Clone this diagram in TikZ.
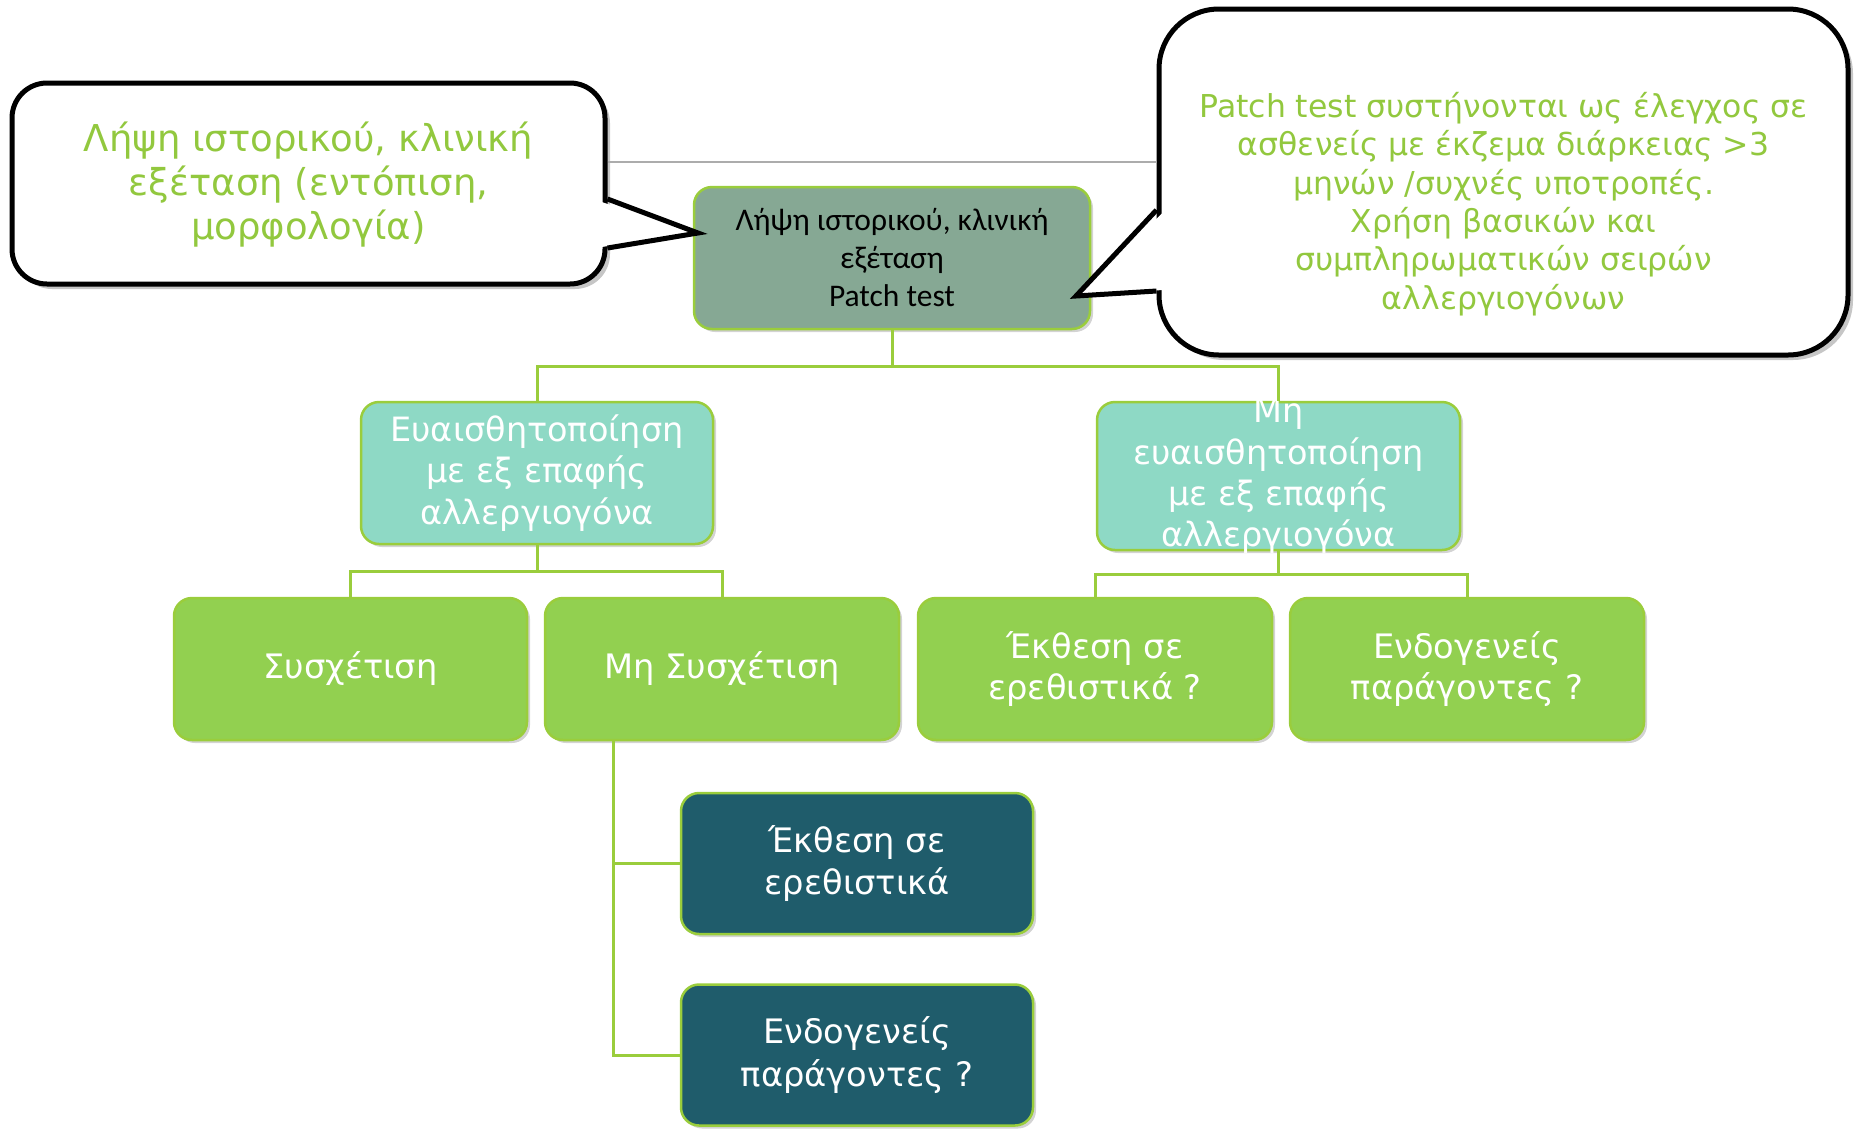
\documentclass[tikz,border=0pt]{standalone}
\usepackage{fontspec}
\setmainfont{DejaVu Sans}
\newfontfamily\calib{Carlito}
\usetikzlibrary{shadows,calc}
\definecolor{lgreen}{HTML}{92D050}
\definecolor{bgreen}{HTML}{9ACD3C}
\definecolor{aqua}{HTML}{8ED9C5}
\definecolor{tealbox}{HTML}{1F5C6B}
\definecolor{sage}{HTML}{86A894}
\definecolor{tgreen}{HTML}{92C83E}
\begin{document}
\begin{tikzpicture}[x=1pt,y=-1pt,
  shad/.style={drop shadow={shadow xshift=3pt,shadow yshift=-3pt,opacity=0.35}},
  boxbase/.style={draw=bgreen,line width=2.5pt,rounded corners=18pt,shad,
    align=center,inner sep=0pt},
  topbox/.style={boxbase,fill=sage,text=black,minimum width=396pt,minimum height=142pt,
    font={\calib\fontsize{31.5}{38}\selectfont}},
  midbox/.style={boxbase,fill=aqua,text=white,minimum width=352pt,minimum height=142pt,
    font={\fontsize{33.5}{41.4}\selectfont}},
  leafbox/.style={boxbase,fill=lgreen,text=white,minimum width=353pt,minimum height=142pt,
    font={\fontsize{33.7}{41.4}\selectfont}},
  darkbox/.style={boxbase,fill=tealbox,text=white,minimum width=352pt,minimum height=141pt,
    font={\fontsize{33.7}{42.5}\selectfont}},
  callout/.style={draw=black,fill=white,line width=5pt,
    drop shadow={shadow xshift=5pt,shadow yshift=-5pt,opacity=0.45}},
  ctext/.style={text=tgreen,align=center},
  conn/.style={draw=bgreen,line width=3pt},
  tail/.style={draw=black,line width=5pt,line join=miter}
]
\useasboundingbox (0,0) rectangle (1854,1128);

% guide line between callouts
\coordinate (gl) at (0,162);

% boxes
\node[topbox] (cb) at (892,258) {Λήψη ιστορικού, κλινική\\εξέταση\\Patch test};
\node[midbox] (ml) at (537,473) {Ευαισθητοποίηση\\με εξ επαφής\\αλλεργιογόνα};
\node[midbox,minimum width=363pt,minimum height=148pt] (mr) at (1278.5,476) {};
\node[text=white,align=center,font={\fontsize{33.5}{41.4}\selectfont}] (mrt) at (mr.center)
  {Μη\\ευαισθητοποίηση\\με εξ επαφής\\αλλεργιογόνα};
\node[leafbox] (s1) at (350.5,669) {Συσχέτιση};
\node[leafbox,minimum width=354pt] (s2) at (722,669) {Μη Συσχέτιση};
\node[leafbox,minimum width=354pt] (s3) at (1095,669) {Έκθεση σε\\ερεθιστικά ?};
\node[leafbox,minimum width=354pt] (s4) at (1467,669) {Ενδογενείς\\παράγοντες ?};
\node[darkbox] (d1) at (857,863.5) {Έκθεση σε\\ερεθιστικά};
\node[darkbox] (d2) at (857,1055) {Ενδογενείς\\παράγοντες ?};

% connectors
\draw[conn] (cb.south) -- ++(0,36) -| (ml.north);
\draw[conn] (cb.south) -- ++(0,36) -| (mr.north);
\draw[conn] (ml.south) -- ++(0,26) -| (s1.north);
\draw[conn] (ml.south) -- ++(0,26) -| (s2.north);
\draw[conn] (mr.south) -- ++(0,23) -| (s3.north);
\draw[conn] (mr.south) -- ++(0,23) -| (s4.north);
\coordinate (s2b) at ($(s2.south west)!0.195!(s2.south east)$);
\draw[conn] (s2b) |- (d1.west);
\draw[conn] (s2b) |- (d2.west);

% left callout
\node[callout,rounded corners=35pt,minimum width=593pt,minimum height=201pt] (lc) at (308.5,183.5) {};
\node[ctext,font={\fontsize{37}{44}\selectfont}] (lct) at ($(lc.center)+(0,1)$)
  {Λήψη ιστορικού, κλινική\\εξέταση (εντόπιση,\\μορφολογία)};
% right callout
\node[callout,rounded corners=60pt,minimum width=689pt,minimum height=346pt] (rc) at (1503.5,182) {};
\node[ctext,font={\fontsize{31.5}{38.3}\selectfont}] (rct) at ($(rc.center)+(0,22)$)
  {Patch test συστήνονται ως έλεγχος σε\\ασθενείς με έκζεμα διάρκειας >3\\μηνών /συχνές υποτροπές.\\Χρήση βασικών και\\συμπληρωματικών σειρών\\αλλεργιογόνων};

% grey line between callouts
\draw[gray!65,line width=1.5pt] (lc.east |- gl) -- (rc.west |- gl);

% callout tails
\coordinate (la) at ($(lc.east)+(0,15.5)$);
\coordinate (lb) at ($(lc.east)+(0,64.5)$);
\coordinate (ltip) at (698,233);
\fill[white] ($(la)+(-6,3)$) -- (ltip) -- ($(lb)+(-6,-1)$) -- cycle;
\draw[tail] (la) -- (ltip) -- (lb);

\coordinate (ra) at ($(rc.west)+(0,28)$);
\coordinate (rb) at ($(rc.west)+(0,109)$);
\coordinate (rtip) at (1076,296);
\fill[white] ($(ra)+(6,3)$) -- (rtip) -- ($(rb)+(6,-1)$) -- cycle;
\draw[tail] (ra) -- (rtip) -- (rb);
\end{tikzpicture}
\end{document}
